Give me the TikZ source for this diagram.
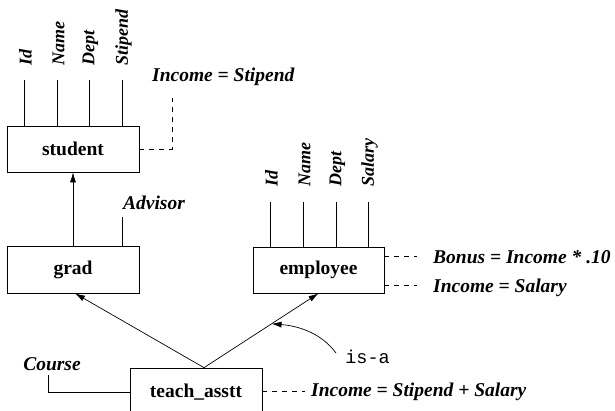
\documentclass[tikz,border=0pt]{standalone}
\usepackage{fontspec}
\setmainfont{Liberation Serif}
\newfontfamily\isafont{Liberation Mono}
\usetikzlibrary{arrows.meta,calc}

\begin{document}
\begin{tikzpicture}[x=1pt,y=-1pt,
  entity/.style={draw, line width=0.7pt, minimum width=132pt, minimum height=46pt,
    inner sep=0pt, font=\fontsize{19.5}{22}\selectfont\bfseries},
  attr/.style={rotate=90, anchor=west, inner sep=0pt,
    font=\fontsize{18}{20}\selectfont\bfseries\itshape},
  derived/.style={anchor=west, inner sep=0pt,
    font=\fontsize{19.5}{22}\selectfont\bfseries\itshape},
  plainattr/.style={inner sep=0pt, font=\fontsize{19.5}{22}\selectfont\bfseries\itshape},
  link/.style={line width=0.7pt},
  dashlink/.style={line width=0.7pt, dash pattern=on 5pt off 5pt},
  isarrow/.style={line width=0.7pt, -{Latex[length=10pt,width=6pt]}},
]
\useasboundingbox (0,0) rectangle (615,410);
\clip (0,0) rectangle (615,410);

% entity boxes
\node[entity] (student) at (73,149) {student};
\node[entity, minimum height=47pt] (grad) at (73,269.5) {grad};
\node[entity, minimum width=131pt] (employee) at (318.5,270) {employee};
\node[entity, minimum height=48pt] (teach) at (196,392) {teach\_asstt};

% attributes of student
\foreach \x/\t/\n in {24/Id/sid, 57/Name/sname, 89/Dept/sdept, 122/Stipend/sstip} {
  \node[attr] (\n) at (\x+1.5,66) {\t};
  \coordinate (\n-end) at (\x,80);
  \draw[link] (\n-end) -- (\n-end |- student.north);
}

% attributes of employee
\foreach \x/\t/\n in {270/Id/eid, 303/Name/ename, 336/Dept/edept, 368/Salary/esal} {
  \node[attr] (\n) at (\x+1.5,187) {\t};
  \coordinate (\n-end) at (\x,202);
  \draw[link] (\n-end) -- (\n-end |- employee.north);
}

% attribute of grad
\node[plainattr] (advisor) at (154,203) {Advisor};
\coordinate (gadv) at (122,217);
\draw[link] (gadv) -- (gadv |- grad.north);

% attribute of teach_asstt
\node[plainattr] (course) at (52,364) {Course};
\coordinate (ctop) at (48,375);
\draw[link] (teach.west) -| (ctop);

% derived attributes
\node[derived] (sincome) at (152,77) {Income = Stipend};
\coordinate (sdash) at (172,98);
\draw[dashlink] (student.east) -| (sdash);

\node[derived] (bonus) at (433,257) {Bonus = Income * .10};
\node[derived] (eincome) at (433,288) {Income = Salary};
\coordinate (ebd) at (417,256);
\coordinate (eid) at (417,285);
\draw[dashlink] (ebd -| employee.east) -- (ebd);
\draw[dashlink] (eid -| employee.east) -- (eid);

\node[derived] (tincome) at (311,392) {Income = Stipend + Salary};
\coordinate (tdash) at (305,391);
\draw[dashlink] (tdash -| teach.east) -- (tdash);

% is-a hierarchy
\draw[isarrow] (grad.north) -- (student.south);
\coordinate (tj) at ([xshift=8pt]teach.north);
\draw[isarrow] (tj) -- ([xshift=2pt]grad.south);
\draw[isarrow] (tj) -- (employee.south);

% is-a annotation
\coordinate (isatip) at ($(tj)!0.59!(employee.south)$);
\node[inner sep=0pt, font=\isafont\fontsize{18.5}{20}\selectfont] (isa) at (367.5,357) {is-a};
\coordinate (isastart) at (336,353);
\draw[isarrow] (isastart) .. controls (322,334) and (300,326) .. (isatip);
\end{tikzpicture}
\end{document}
